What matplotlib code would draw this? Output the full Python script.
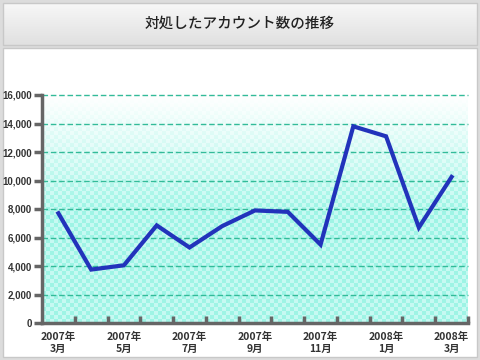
import numpy as np
import matplotlib
matplotlib.use("Agg")
import matplotlib.pyplot as plt
from matplotlib.patches import Rectangle

plt.rcParams['font.family'] = ['Noto Sans CJK JP', 'DejaVu Sans']

# data
months = ['2007年\n3月', '2007年\n4月', '2007年\n5月', '2007年\n6月', '2007年\n7月',
          '2007年\n8月', '2007年\n9月', '2007年\n10月', '2007年\n11月', '2007年\n12月',
          '2008年\n1月', '2008年\n2月', '2008年\n3月']
accounts = [7700, 3750, 4050, 6850, 5300, 6800, 7900, 7800, 5500, 13800, 13100, 6700, 10250]
y_ticks = [0, 2000, 4000, 6000, 8000, 10000, 12000, 14000, 16000]
title = '対処したアカウント数の推移'

fig = plt.figure(figsize=(4.8, 3.6), dpi=100)
fig.patch.set_facecolor('#dcdcdc')

# background frame: title band and white panel
bg = fig.add_axes([0, 0, 1, 1])
bg.set_xlim(0, 480)
bg.set_ylim(360, 0)
bg.axis('off')
band = np.linspace(0.97, 0.88, 64).reshape(-1, 1)
bg.imshow(np.dstack([band, band, band]), extent=(3, 477, 45, 3), aspect='auto')
bg.add_patch(Rectangle((3, 3), 474, 42, fill=False, ec='#c8c8c8', lw=1))
bg.add_patch(Rectangle((3, 48), 474, 309, fc='white', ec='#c8c8c8', lw=1))
bg.text(240, 24, title, ha='center', va='center', fontsize=10.5, color='#222222',
        fontweight='medium')

ax = fig.add_axes([42 / 480, 1 - 323 / 360, 426 / 480, 228 / 360])
x = np.arange(len(accounts))
ax.set_xlim(-0.5, len(accounts) - 0.5)
ax.set_ylim(0, 16000)

# gradient + checker background
h, w = 228, 426
yy, xx = np.mgrid[0:h, 0:w]
t = np.clip(yy / (h * 0.5), 0, 1)
top = np.array([1.0, 1.0, 1.0])
bot1 = np.array([0.62, 0.96, 0.90])
bot2 = np.array([0.78, 0.98, 0.95])
checker = ((xx // 4 + yy // 4) % 2).astype(float)[..., None]
bot = bot1 * checker + bot2 * (1 - checker)
img = top * (1 - t[..., None]) + bot * t[..., None]
ax.imshow(img, extent=(-0.5, len(accounts) - 0.5, 0, 16000), aspect='auto', zorder=0)

for v in y_ticks[1:]:
    ax.axhline(v, color='#33bb99', lw=1, ls=(0, (4, 2)), zorder=1, clip_on=False)

ax.plot(x, accounts, color='#2233bb', lw=3, solid_joinstyle='miter', zorder=3)

for s in ['top', 'right']:
    ax.spines[s].set_visible(False)
for s in ['left', 'bottom']:
    ax.spines[s].set_color('#666666')
    ax.spines[s].set_linewidth(2.5)

ax.set_yticks(y_ticks)
ax.set_yticklabels([f'{v:,}' for v in y_ticks], fontsize=7, color='#333333',
                   fontweight='bold', family=['Liberation Sans'])
ax.tick_params(axis='y', direction='out', length=6, width=2.5, color='#666666', pad=1)

ax.set_xticks(np.arange(len(accounts)) + 0.5)
ax.set_xticklabels([])
ax.tick_params(axis='x', direction='in', length=5, width=2.5, color='#666666')
ax.set_xticks(x[::2], minor=True)
ax.set_xticklabels(months[::2], minor=True, fontsize=7.5, color='#333333',
                   fontweight='bold', linespacing=1.25)
ax.tick_params(axis='x', which='minor', length=0, pad=6)

fig.savefig('out.png', dpi=100, facecolor=fig.get_facecolor())
